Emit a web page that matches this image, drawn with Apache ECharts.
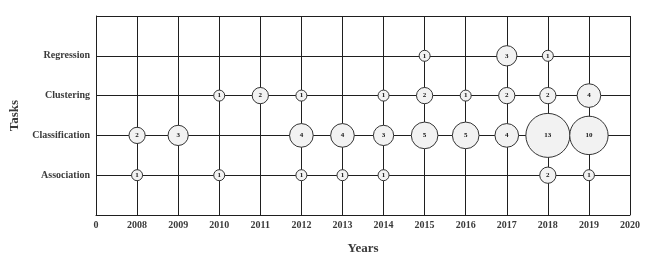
<!DOCTYPE html>
<html><head><meta charset="utf-8">
<script src="https://cdn.jsdelivr.net/npm/echarts@6/dist/echarts.min.js"></script>
<style>html,body{margin:0;padding:0;background:#fff;overflow:hidden}#c{width:650px;height:257px}</style>
</head><body><div id="c"></div>
<script>
const years = ["0","2008","2009","2010","2011","2012","2013","2014","2015","2016","2017","2018","2019","2020"];
const tasks = ["","Association","Classification","Clustering","Regression"," "];
const regression = [["2015",1],["2017",3],["2018",1]];
const clustering = [["2010",1],["2011",2],["2012",1],["2014",1],["2015",2],["2016",1],["2017",2],["2018",2],["2019",4]];
const classification = [["2008",2],["2009",3],["2012",4],["2013",4],["2014",3],["2015",5],["2016",5],["2017",4],["2018",13],["2019",10]];
const association = [["2008",1],["2010",1],["2012",1],["2013",1],["2014",1],["2018",2],["2019",1]];

const font = "'Liberation Serif', 'DejaVu Serif', serif";
const lineCol = '#1f1f1f';
const data = [];
[["Association",association],["Classification",classification],["Clustering",clustering],["Regression",regression]].forEach(([t,arr])=>{
  arr.forEach(([y,v])=>data.push([y,t,v]));
});
const chart = echarts.init(document.getElementById('c'));
chart.setOption({
  animation:false,
  grid:{left:96,right:20,top:16,bottom:42,containLabel:false,outerBoundsMode:'none'},
  xAxis:{type:'category',data:years,boundaryGap:false,
    name:'Years',nameLocation:'middle',nameGap:27,
    nameTextStyle:{fontFamily:font,fontWeight:'bold',fontSize:13,color:'#3a3a3a'},
    axisLine:{lineStyle:{color:lineCol,width:1}},axisTick:{show:false},
    axisLabel:{fontFamily:font,fontWeight:'bold',fontSize:10,color:'#3a3a3a',margin:5,interval:0},
    splitLine:{show:true,lineStyle:{color:lineCol,width:1}}},
  yAxis:{type:'category',data:tasks,boundaryGap:false,
    name:'Tasks',nameLocation:'middle',nameGap:75,
    nameTextStyle:{fontFamily:font,fontWeight:'bold',fontSize:13,color:'#3a3a3a'},
    axisLine:{lineStyle:{color:lineCol,width:1}},axisTick:{show:false},
    axisLabel:{fontFamily:font,fontWeight:'bold',fontSize:10,color:'#3a3a3a',margin:6,interval:0},
    splitLine:{show:true,lineStyle:{color:lineCol,width:1}}},
  series:[{type:'scatter',data:data,
    symbolSize:function(d){return -1.66+12.66*Math.sqrt(d[2]);},
    itemStyle:{color:'#f2f2f2',borderColor:'#333',borderWidth:1,opacity:1},
    label:{show:true,position:'inside',formatter:function(p){return p.data[2];},
      fontFamily:font,fontWeight:'bold',fontSize:7,color:'#111'}}]
});
</script></body></html>
